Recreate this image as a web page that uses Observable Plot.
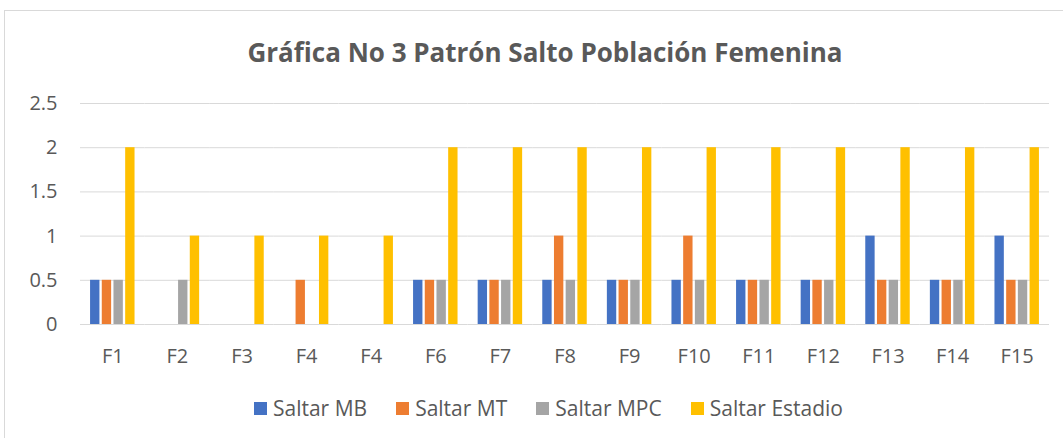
<!DOCTYPE html>
<html>
<head>
<meta charset="utf-8">
<script src="https://cdn.jsdelivr.net/npm/d3@7"></script>
<script src="https://cdn.jsdelivr.net/npm/@observablehq/plot@0.6"></script>
<style>
  body { margin: 0; background: #fff; font-family: "Open Sans", "Liberation Sans", sans-serif; color: #595959; }
  #frame { position: absolute; left: 4px; top: 10px; width: 1080px; height: 450px; border: 1px solid #d9d9d9; box-sizing: border-box; }
  #title { position: absolute; left: 0; top: 34px; width: 1090px; text-align: center; font-size: 26px; line-height: normal; font-weight: bold; color: #595959; white-space: nowrap; }
  #chart { position: absolute; left: 0; top: 80px; }
  #legend { position: absolute; left: 0; top: 394px; width: 1097px; display: flex; justify-content: center; gap: 29px; font-size: 21px; line-height: normal; color: #595959; white-space: nowrap; }
  #legend .item { display: flex; align-items: center; gap: 6px; }
  #legend .sw { width: 13px; height: 13px; display: inline-block; }
</style>
</head>
<body>
<div id="frame"></div>
<div id="title">Gráfica No 3 Patrón Salto Población Femenina</div>
<div id="chart"></div>
<div id="legend"></div>
<script>
const categories = ["F1","F2","F3","F4","F4","F6","F7","F8","F9","F10","F11","F12","F13","F14","F15"];
const series = ["Saltar MB","Saltar MT","Saltar MPC","Saltar Estadio"];
const saltarMB      = [0.5,0,0,0,0,0.5,0.5,0.5,0.5,0.5,0.5,0.5,1,0.5,1];
const saltarMT      = [0.5,0,0,0.5,0,0.5,0.5,1,0.5,1,0.5,0.5,0.5,0.5,0.5];
const saltarMPC     = [0.5,0.5,0,0,0,0.5,0.5,0.5,0.5,0.5,0.5,0.5,0.5,0.5,0.5];
const saltarEstadio = [2,1,1,1,1,2,2,2,2,2,2,2,2,2,2];
const yTicks = [0,0.5,1,1.5,2,2.5];
const colors = ["#4472C4","#ED7D31","#A5A5A5","#FFC000"];

const valuesBySeries = [saltarMB, saltarMT, saltarMPC, saltarEstadio];
const data = [];
categories.forEach((c, i) => {
  series.forEach((s, j) => {
    data.push({i, category: c, series: s, value: valuesBySeries[j][i]});
  });
});

const chart = Plot.plot({
  width: 1063,
  height: 290,
  marginLeft: 80,
  marginRight: 14,
  marginTop: 23,
  marginBottom: 46,
  style: {fontSize: "20px", fontFamily: "'Open Sans', 'Liberation Sans', sans-serif", color: "#595959", background: "transparent"},
  fx: {domain: d3.range(categories.length), padding: 0, round: false, tickFormat: i => categories[i], label: null, tickSize: 0, tickPadding: 24},
  x: {domain: series, paddingInner: 0.2, paddingOuter: 0.86, round: false, axis: null},
  y: {domain: [0, 2.5], ticks: yTicks, tickFormat: d => String(d), tickSize: 0, tickPadding: 23, label: null},
  color: {domain: series, range: colors},
  marks: [
    Plot.ruleY(yTicks, {stroke: "#d9d9d9", strokeWidth: 1}),
    Plot.barY(data.filter(d => d.value > 0), {fx: "i", x: "series", y: "value", fill: "series"})
  ]
});
document.getElementById("chart").appendChild(chart);

const legend = document.getElementById("legend");
series.forEach((s, j) => {
  const item = document.createElement("div");
  item.className = "item";
  const sw = document.createElement("span");
  sw.className = "sw";
  sw.style.background = colors[j];
  const t = document.createElement("span");
  t.textContent = s;
  item.appendChild(sw);
  item.appendChild(t);
  legend.appendChild(item);
});
</script>
</body>
</html>
